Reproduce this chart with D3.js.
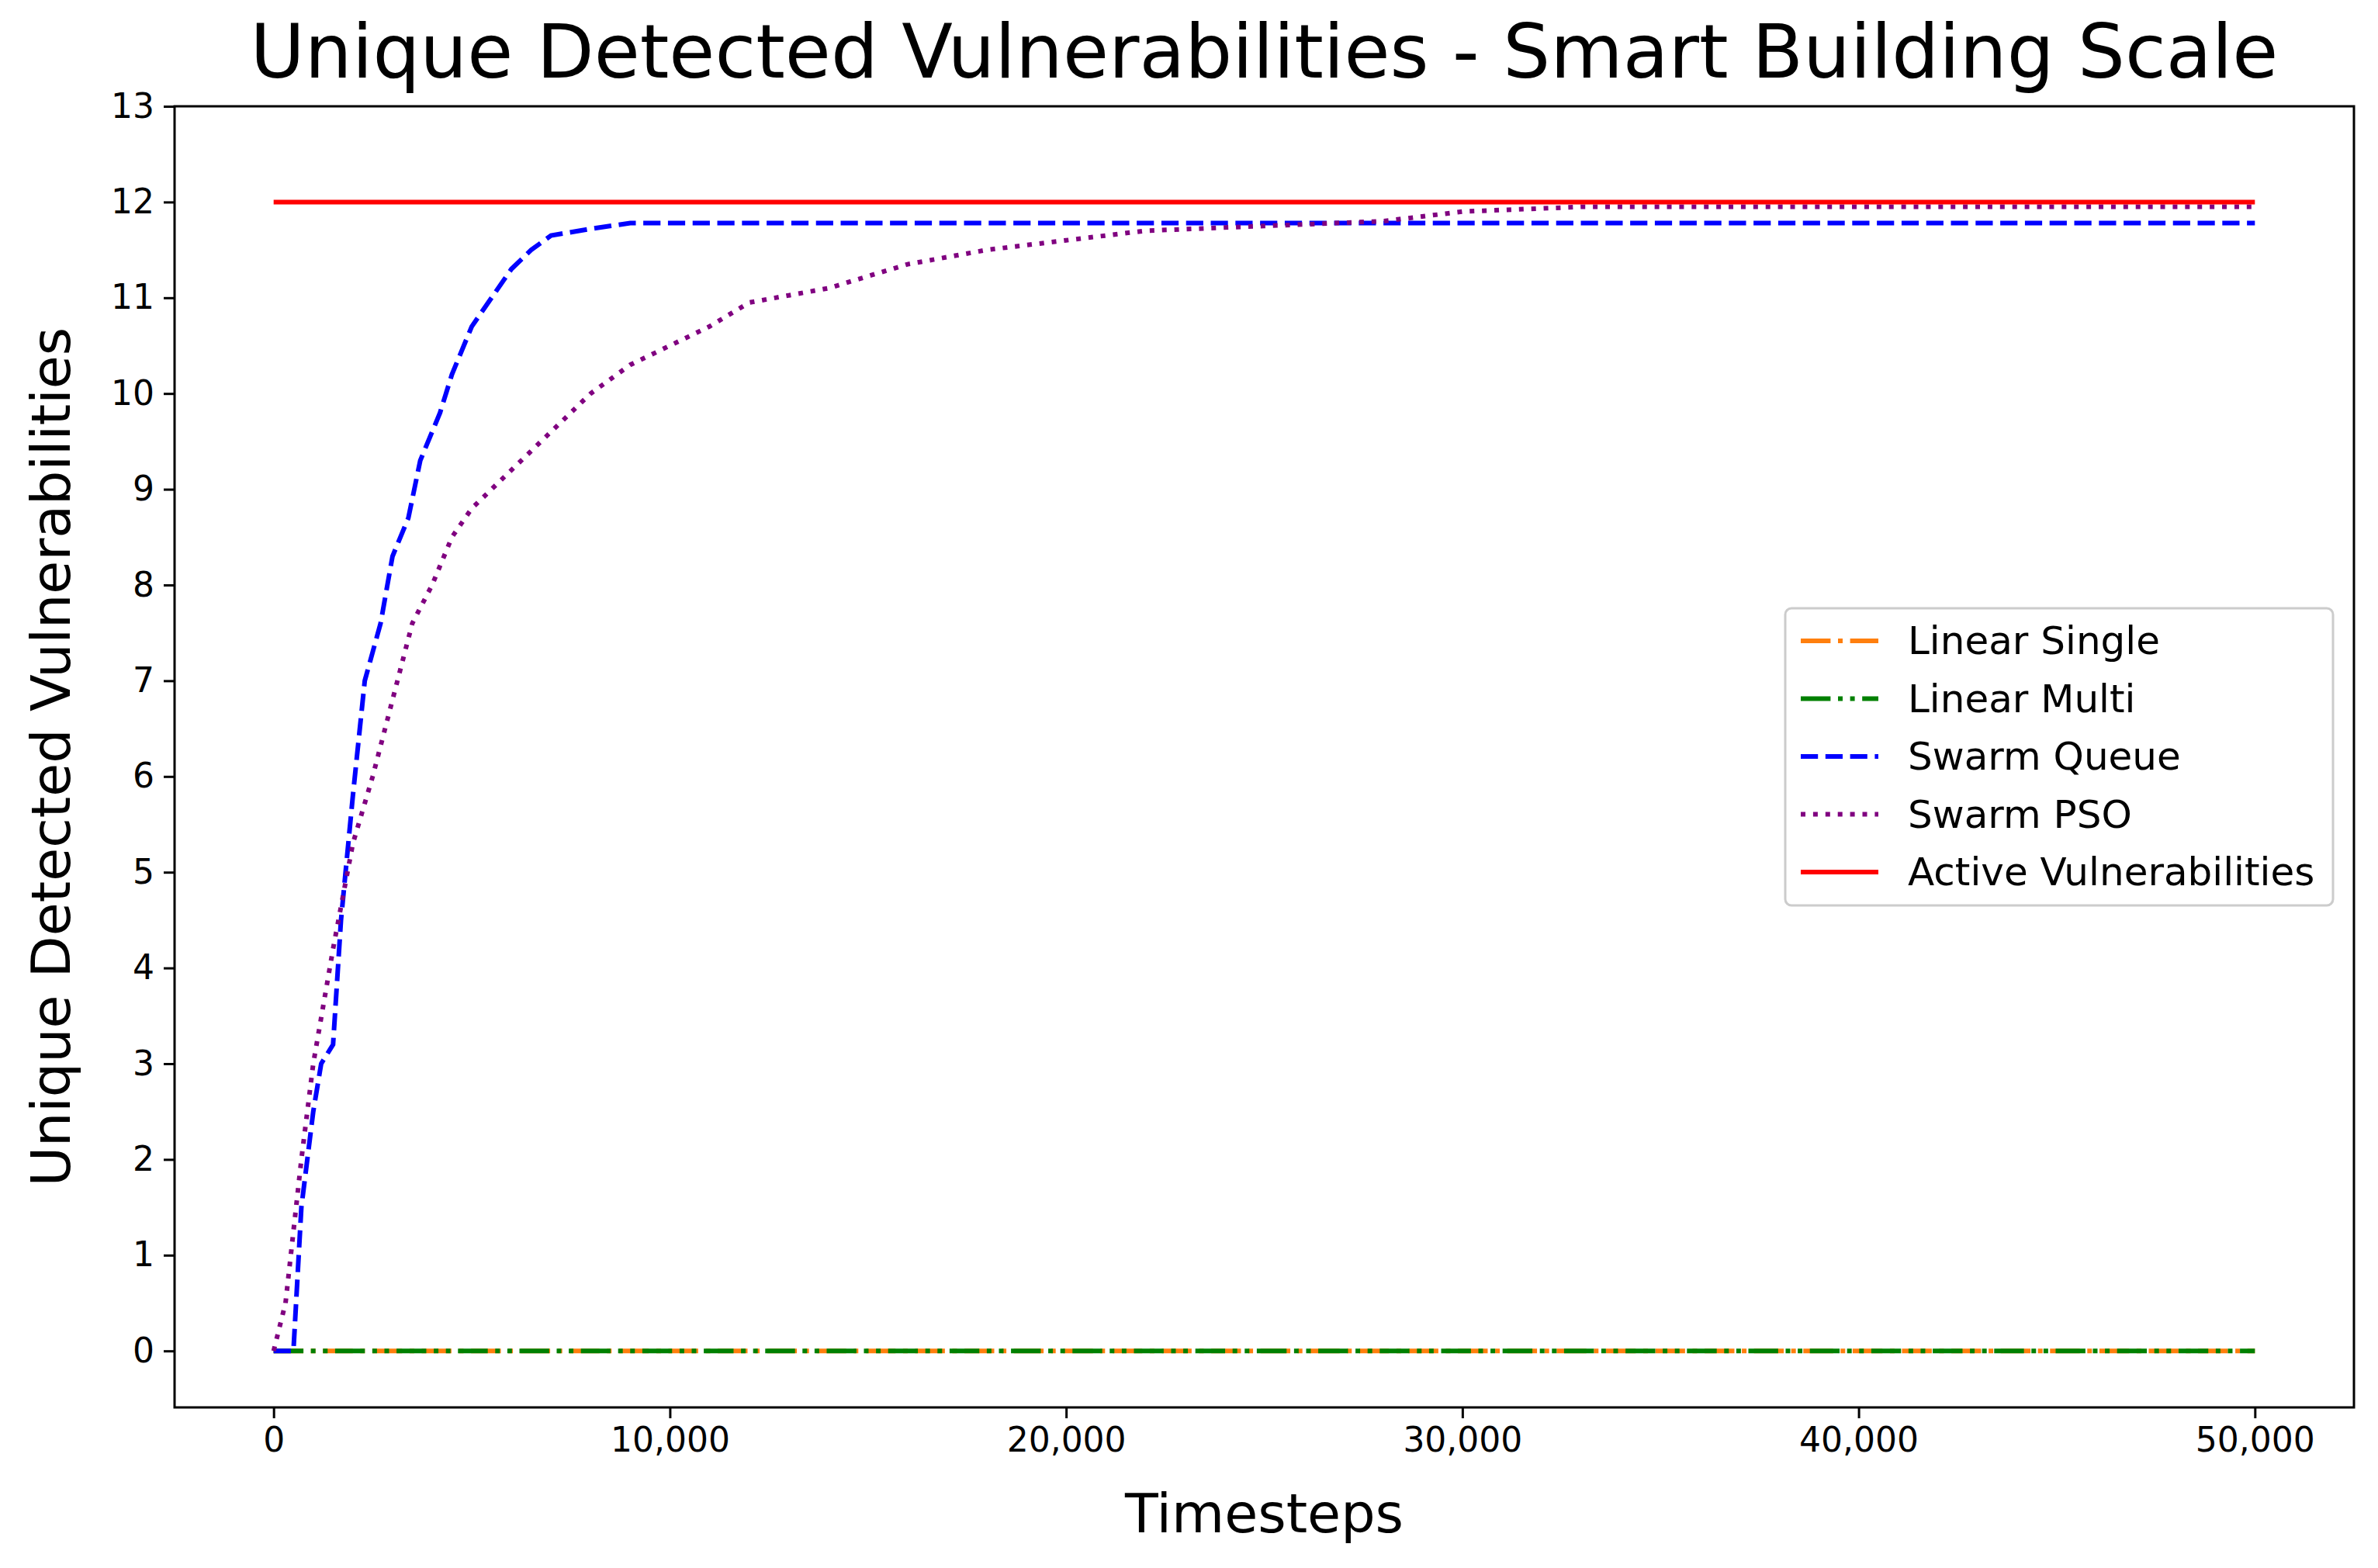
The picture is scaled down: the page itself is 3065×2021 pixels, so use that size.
<!DOCTYPE html>
<html>
<head>
<meta charset="UTF-8">
<script src="https://d3js.org/d3.v7.min.js"></script>
<style>
  body { margin: 0; background: #fff; font-family: "DejaVu Sans", sans-serif; }
</style>
</head>
<body>
<svg width="3065" height="2021"></svg>
<script>
const xTicks = [0, 10000, 20000, 30000, 40000, 50000];
const yTicks = d3.range(0, 14);

const queueX = [0, 300, 500, 700, 1000, 1200, 1500, 1700, 2000, 2300, 2700, 3000, 3400, 3700, 4200, 4500, 5000, 5500, 6000, 6500, 7000, 8000, 9000, 50000];
const queueY = [0, 0, 0, 1.5, 2.5, 3.0, 3.2, 4.5, 5.8, 7.0, 7.6, 8.3, 8.7, 9.3, 9.8, 10.2, 10.7, 11.0, 11.3, 11.5, 11.65, 11.72, 11.78, 11.78];
const psoX = [0, 300, 700, 1000, 1500, 2000, 2500, 3000, 3500, 4000, 4500, 5000, 6000, 7000, 8000, 9000, 10000, 11000, 12000, 14000, 16000, 18000, 20000, 22000, 25000, 28000, 30000, 33000, 50000];
const psoY = [0, 0.5, 2.0, 3.0, 4.2, 5.3, 6.0, 6.8, 7.6, 8.0, 8.5, 8.8, 9.2, 9.6, 10.0, 10.3, 10.5, 10.7, 10.95, 11.1, 11.35, 11.5, 11.6, 11.7, 11.75, 11.8, 11.9, 11.95, 11.95];
const flatX = [0, 50000];
const activeY = [12, 12];
const zeroY = [0, 0];

const lw = 6;
const series = [
  { name: "Linear Single", xs: flatX, ys: zeroY, color: "#ff7f0e", dash: [6.4, 1.6, 1, 1.6] },
  { name: "Linear Multi", xs: flatX, ys: zeroY, color: "green", dash: [6.4, 1.6, 1, 1.6, 1, 1.6] },
  { name: "Swarm Queue", xs: queueX, ys: queueY, color: "blue", dash: [3.7, 1.6] },
  { name: "Swarm PSO", xs: psoX, ys: psoY, color: "purple", dash: [1, 1.65] },
  { name: "Active Vulnerabilities", xs: flatX, ys: activeY, color: "red", dash: null }
];

const svg = d3.select("svg");
const L = 225, R = 3034, T = 137, B = 1814;
const x = d3.scaleLinear().domain([-2500, 52500]).range([L, R]);
const y = d3.scaleLinear().domain([-0.59, 13]).range([B, T]);

// lines
const line = d3.line().x(d => x(d[0])).y(d => y(d[1]));
series.forEach(s => {
  svg.append("path")
    .datum(s.xs.map((v, i) => [v, s.ys[i]]))
    .attr("d", line)
    .attr("fill", "none")
    .attr("stroke", s.color)
    .attr("stroke-width", lw)
    .attr("stroke-dasharray", s.dash ? s.dash.map(v => v * lw).join(",") : null);
});

// frame
svg.append("rect").attr("x", L).attr("y", T).attr("width", R - L).attr("height", B - T)
  .attr("fill", "none").attr("stroke", "#000").attr("stroke-width", 3);

const xAxis = svg.append("g").attr("transform", `translate(0,${B})`)
  .call(d3.axisBottom(x).tickValues(xTicks).tickFormat(d3.format(",")).tickSize(14).tickPadding(12));
const yAxis = svg.append("g").attr("transform", `translate(${L},0)`)
  .call(d3.axisLeft(y).tickValues(yTicks).tickSize(14).tickPadding(12));
[xAxis, yAxis].forEach(a => {
  a.select(".domain").remove();
  a.selectAll("line").attr("stroke-width", 3);
  a.selectAll("text").attr("font-size", 44).attr("font-family", "DejaVu Sans");
});

svg.append("text").attr("x", (L + R) / 2).attr("y", 100).attr("text-anchor", "middle")
  .attr("font-size", 96).text("Unique Detected Vulnerabilities - Smart Building Scale");
svg.append("text").attr("x", (L + R) / 2).attr("y", 1975).attr("text-anchor", "middle")
  .attr("font-size", 70).text("Timesteps");
svg.append("text").attr("transform", `translate(90,${(T + B) / 2}) rotate(-90)`).attr("text-anchor", "middle")
  .attr("font-size", 70).text("Unique Detected Vulnerabilities");

// legend
const lg = svg.append("g").attr("transform", "translate(2301,784)");
lg.append("rect").attr("width", 706).attr("height", 383).attr("rx", 8)
  .attr("fill", "#fff").attr("fill-opacity", 0.8).attr("stroke", "#ccc").attr("stroke-width", 3);
series.forEach((s, i) => {
  const cy = 42 + i * 74.5;
  lg.append("line").attr("x1", 20).attr("x2", 120).attr("y1", cy).attr("y2", cy)
    .attr("stroke", s.color).attr("stroke-width", lw)
    .attr("stroke-dasharray", s.dash ? s.dash.map(v => v * lw).join(",") : null);
  lg.append("text").attr("x", 158).attr("y", cy + 17).attr("font-size", 50).text(s.name);
});
</script>
</body>
</html>
